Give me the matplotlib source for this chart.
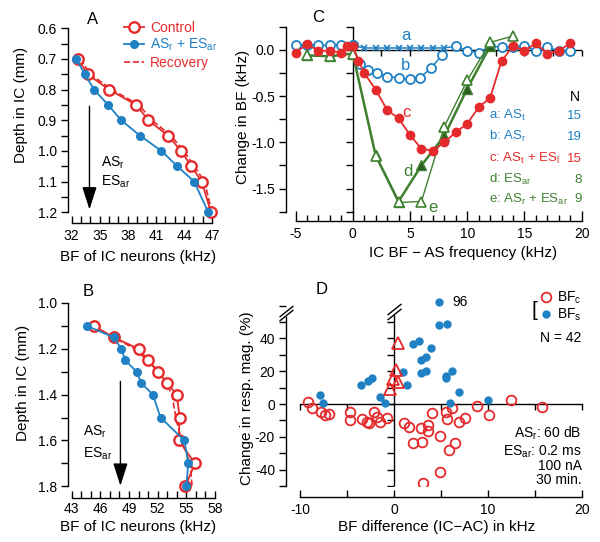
import numpy as np
import matplotlib
matplotlib.use('Agg')
import matplotlib.pyplot as plt
import matplotlib.transforms as mtransforms
from matplotlib.ticker import MultipleLocator

plt.rcParams['font.family'] = ['Liberation Sans', 'DejaVu Sans']
plt.rcParams['mathtext.default'] = 'regular'
plt.rcParams['axes.unicode_minus'] = False

RED = '#e52a2c'
BLUE = '#1f80c3'
GREEN = '#3f8030'
DKGREEN = '#2b5e1e'

# ---- panel A: depth vs BF ----
a_depth = [0.70, 0.75, 0.80, 0.85, 0.90, 0.95, 1.00, 1.05, 1.10, 1.20]
a_ctrl = [32.7, 33.7, 36.0, 38.9, 40.2, 42.3, 43.7, 44.8, 45.9, 46.9]
a_exp = [32.5, 33.4, 34.4, 35.9, 37.3, 39.3, 41.6, 43.3, 45.1, 46.6]
a_rec = [32.9, 34.0, 36.3, 39.2, 40.6, 42.6, 44.0, 45.1, 46.2, 47.0]
a_xticks = [32, 35, 38, 41, 44, 47]

# ---- panel B ----
b_depth = [1.10, 1.15, 1.20, 1.25, 1.30, 1.35, 1.40, 1.50, 1.60, 1.70, 1.80]
b_ctrl = [45.3, 47.4, 50.0, 51.0, 52.0, 53.0, 54.0, 54.3, 54.2, 55.9, 54.9]
b_exp = [44.6, 47.4, 48.2, 48.6, 49.8, 50.3, 51.5, 52.3, 54.8, 55.2, 55.0]
b_rec = [45.3, 47.4, 49.6, 50.9, 52.2, 52.9, 53.5, 53.9, 54.5, 55.4, 55.6]
b_xticks = [43, 46, 49, 52, 55, 58]

# ---- panel C: change in BF ----
ca_x = [-5, -4, -3, -2, -1, 0, 1, 2, 3, 4, 5, 6, 7, 8,
        9, 10, 11, 12, 13, 14, 15, 16, 17, 18, 19]
ca_y = [0.05, 0.05, 0.05, 0.05, 0.05, 0.05, 0.02, 0.02, 0.02, 0.02, 0.02, 0.02, 0.02, 0.02,
        0.04, -0.01, -0.03, 0.04, 0.03, 0.03, 0.04, -0.01, 0.03, -0.01, -0.01]
ca_cross = [1, 2, 3, 4, 5, 6, 7, 8]
cb_x = [0, 0.6, 1.3, 2.1, 3.0, 4.0, 5.0, 5.9, 6.8, 7.8]
cb_y = [0.05, -0.15, -0.22, -0.25, -0.29, -0.30, -0.32, -0.30, -0.20, -0.06]
cc_x = [-5, -4, -3, -2, -1, -0.5, 0, 0.5, 1, 2, 3, 4, 5, 6, 7, 8, 9, 10,
        11, 12, 13, 14, 15, 16, 17, 18, 19]
cc_y = [-0.03, 0.06, -0.01, -0.01, -0.03, 0.04, 0.04, -0.12, -0.25, -0.43, -0.65,
        -0.74, -0.92, -1.07, -1.09, -1.0, -0.89, -0.80, -0.62, -0.52, -0.12, 0.04,
        -0.01, 0.07, -0.04, -0.01, 0.07]
cd_x = [-4, -2, 0, 2, 4, 6, 8, 10, 12]
cd_y = [-0.06, -0.07, -0.04, -1.14, -1.64, -1.25, -0.93, -0.42, 0.04]
ce_x = [-4, -2, 0, 2, 4, 6, 8, 10, 12, 14]
ce_y = [-0.06, -0.07, -0.04, -1.15, -1.65, -1.64, -0.83, -0.33, 0.08, 0.15]
c_names = ['a', 'b', 'c', 'd', 'e']
c_labels = ['AS$_t$', 'AS$_r$', 'AS$_t$ + ES$_l$', 'ES$_{ar}$', 'AS$_r$ + ES$_{ar}$']
c_n = [15, 19, 15, 8, 9]

# ---- panel D: response magnitude vs BF difference ----
bfs_x = [-7.85, -7.5, -3.5, -2.8, -2.3, -1.5, -1.0, 1.0, 1.4, 2.0, 2.7, 2.9, 3.4,
         2.85, 3.45, 3.9, 4.8, 5.7, 5.5, 5.6, 6.2, 6.0, 6.9, 10.0, 4.8]
bfs_y = [5.5, 0.4, 11.6, 14, 16, 4.1, 0.4, 19.5, 11.6, 36.6, 38.6, 26.8, 28.8,
         19, 20.3, 34, 48.2, 48.6, 15.7, 16.8, 20.3, 0.4, 7.5, 2.5, 96]
bfc_x = [-9.2, -8.7, -7.75, -7.3, -6.95, -4.7, -4.7, -3.35, -2.9, -2.65, -2.1, -1.75,
         -1.5, -0.78, 1.06, 1.6, 2.84, 3.6, 3.6, 2.06, 3.0, 4.9, 4.1, 5.5, 6.2, 5.7,
         6.9, 7.56, 8.9, 10.1, 6.46, 5.86, 4.9, 3.1, 12.5, 15.8]
bfc_y = [1.0, -2.2, -5.1, -6.7, -6.3, -5.1, -9.8, -9.3, -10.8, -11.8, -5.1, -7.7,
         -10.8, -8.7, -11.4, -14.2, -14.8, -12.8, -16.3, -24, -23.4, -19.3, -5.7, -4.7,
         -2.6, -9.3, -10.8, -8.7, -1.2, -6.7, -24, -28, -41.3, -48, 2.4, -1.6]
tri_x = [0.42, 0.18, 0.42, -0.06, -0.42]
tri_y = [37, 20.7, 13.6, 15.0, 9.1]
D_BREAK = 55


def squash(v):
    v = np.asarray(v, dtype=float)
    return np.where(v > D_BREAK, D_BREAK + (v - D_BREAK) * 0.18, v)


W, H = 600, 542
fig = plt.figure(figsize=(W / 100, H / 100), dpi=100)


def px_axes(x0, y0, x1, y1):
    return fig.add_axes([x0 / W, 1 - y1 / H, (x1 - x0) / W, (y1 - y0) / H])


def ftext(x, y, s, **kw):
    fig.text(x / W, 1 - y / H, s, **kw)


def style(ax, left_out, bottom_out, xb, yb, xpad=4):
    for s in ['top', 'right']:
        ax.spines[s].set_visible(False)
    ax.spines['left'].set_position(('outward', left_out))
    ax.spines['bottom'].set_position(('outward', bottom_out))
    ax.spines['left'].set_bounds(*yb)
    ax.spines['bottom'].set_bounds(*xb)
    for s in ['left', 'bottom']:
        ax.spines[s].set_linewidth(1.0)
    ax.tick_params(axis='y', which='both', direction='out', length=5, width=1,
                   labelsize=10, pad=3)
    ax.tick_params(axis='x', which='both', direction='in', length=5, width=1,
                   labelsize=10, pad=xpad)
    ax.patch.set_alpha(0)


arrow_kw = dict(arrowstyle='-|>,head_width=0.32,head_length=1.0', color='k',
                lw=1.0, mutation_scale=14)

# ================= A =================
axA = px_axes(71.7, 28.3, 212, 212.3)
lc, = axA.plot(a_ctrl, a_depth, '-o', color=RED, mfc='white', mec=RED, mew=1.7,
               ms=7.5, lw=1.3, clip_on=False, zorder=3, label='Control')
le, = axA.plot(a_exp, a_depth, '-o', color=BLUE, ms=5.5, lw=1.3, clip_on=False,
               zorder=4, label='AS$_r$ + ES$_{ar}$')
lr, = axA.plot(a_rec, a_depth, '--', color=RED, lw=1.2, clip_on=False, zorder=2,
               label='Recovery')
axA.set_xlim(32, 47)
axA.set_ylim(1.2, 0.6)
style(axA, 2.5, 8, (32, 47), (0.6, 1.2), xpad=4)
axA.set_xticks(a_xticks)
axA.xaxis.set_minor_locator(MultipleLocator(1))
axA.yaxis.set_major_locator(MultipleLocator(0.1))
axA.yaxis.set_minor_locator(MultipleLocator(0.05))
axA.yaxis.set_major_formatter(lambda v, p: f'{v:.1f}')
axA.legend(handles=[lc, le, lr], loc='upper left', bbox_to_anchor=(0.37, 1.04),
           frameon=False, fontsize=10, handlelength=1.5, handletextpad=0.4,
           labelspacing=0.15, borderpad=0, borderaxespad=0, labelcolor='linecolor')
axA.annotate('', xy=(33.9, 1.2), xytext=(33.9, 0.845), annotation_clip=False,
             arrowprops=arrow_kw)
axA.text(35.1, 1.04, 'AS$_r$', fontsize=10, va='center', ha='left')
axA.text(35.1, 1.10, 'ES$_{ar}$', fontsize=10, va='center', ha='left')
ftext(93, 20, 'A', fontsize=12, ha='center', va='center')
ftext(138.5, 257, 'BF of IC neurons (kHz)', fontsize=11, ha='center', va='center')
ftext(21, 105, 'Depth in IC (mm)', fontsize=11, ha='center', va='center', rotation=90)

# ================= B =================
axB = px_axes(71.7, 303, 215, 486.3)
axB.plot(b_ctrl, b_depth, '-o', color=RED, mfc='white', mec=RED, mew=1.7,
         ms=7.5, lw=1.3, clip_on=False, zorder=3)
axB.plot(b_exp, b_depth, '-o', color=BLUE, ms=5.5, lw=1.3, clip_on=False, zorder=4)
axB.plot(b_rec, b_depth, '--', color=RED, lw=1.2, clip_on=False, zorder=2)
axB.set_xlim(43, 58)
axB.set_ylim(1.8, 1.0)
style(axB, 2.5, 8.6, (43, 58), (1.0, 1.8), xpad=2.5)
axB.set_xticks(b_xticks)
axB.xaxis.set_minor_locator(MultipleLocator(1))
axB.yaxis.set_major_locator(MultipleLocator(0.2))
axB.yaxis.set_minor_locator(MultipleLocator(0.1))
axB.yaxis.set_major_formatter(lambda v, p: f'{v:.1f}')
axB.annotate('', xy=(48.1, 1.81), xytext=(48.1, 1.33), annotation_clip=False,
             arrowprops=arrow_kw)
axB.text(44.2, 1.56, 'AS$_r$', fontsize=10, va='center', ha='left')
axB.text(44.2, 1.66, 'ES$_{ar}$', fontsize=10, va='center', ha='left')
ftext(88, 292, 'B', fontsize=12, ha='center', va='center')
ftext(138, 527, 'BF of IC neurons (kHz)', fontsize=11, ha='center', va='center')
ftext(23, 383, 'Depth in IC (mm)', fontsize=11, ha='center', va='center', rotation=90)

# ================= C =================
axC = px_axes(295.5, 26.7, 581.7, 211.7)
axC.set_xlim(-5, 20)
axC.set_ylim(-1.75, 0.25)
style(axC, 6.8, 6.8, (-5, 20), (-1.75, 0.25))
axC.xaxis.set_major_locator(MultipleLocator(5))
axC.xaxis.set_minor_locator(MultipleLocator(1))
axC.tick_params(axis='x', which='major', length=7)
axC.tick_params(axis='x', which='minor', length=4)
axC.yaxis.set_major_locator(MultipleLocator(0.5))
axC.yaxis.set_minor_locator(MultipleLocator(0.25))
axC.yaxis.set_major_formatter(lambda v, p: f'{v:.1f}')
# inner axes through the origin
yt = np.arange(-1.75, 0.26, 0.25)
axC.plot([0, 0], [-1.75, 0.25], color='k', lw=1.0, zorder=1, clip_on=False)
axC.plot(np.zeros_like(yt), yt, ls='none', marker=0, ms=5, mew=1.0, color='k',
         clip_on=False, zorder=1)
xt = np.arange(2.5, 20.1, 2.5)
axC.plot([0, 20], [0, 0], color='k', lw=1.0, zorder=1)
axC.plot(xt, np.zeros_like(xt), ls='none', marker=3, ms=4, mew=1.0, color='k',
         clip_on=False, zorder=1)
ca_x = np.array(ca_x)
ca_y = np.array(ca_y)
is_cross = np.isin(ca_x, ca_cross)
axC.plot(ca_x, ca_y, '-', color=BLUE, lw=1.1, zorder=3, clip_on=False)
axC.plot(ca_x[~is_cross], ca_y[~is_cross], 'o', mfc='white', mec=BLUE, mew=1.3,
         ms=6.5, zorder=3, clip_on=False)
axC.plot(ca_x[is_cross], ca_y[is_cross], 'x', color=BLUE, mew=1.2, ms=5, zorder=3)
axC.plot(cb_x, cb_y, '-o', color=BLUE, mfc='white', mec=BLUE, mew=1.3, ms=6.5,
         lw=1.1, zorder=3)
axC.plot(cd_x, cd_y, '-^', color=GREEN, mfc=DKGREEN, mec=GREEN, mew=1.0, ms=7,
         lw=1.8, zorder=4)
axC.plot(ce_x, ce_y, '-^', color=GREEN, mfc='white', mec=GREEN, mew=1.2, ms=7.5,
         lw=1.0, zorder=4, clip_on=False)
axC.plot(cc_x, cc_y, '-o', color=RED, ms=6, lw=1.3, zorder=5, clip_on=False)
axC.text(4.65, 0.15, 'a', color=BLUE, fontsize=12, ha='center', va='center')
axC.text(4.65, -0.17, 'b', color=BLUE, fontsize=12, ha='center', va='center')
axC.text(4.65, -0.68, 'c', color=RED, fontsize=12, ha='center', va='center')
axC.text(4.8, -1.32, 'd', color=GREEN, fontsize=12, ha='center', va='center')
axC.text(7.0, -1.70, 'e', color=GREEN, fontsize=12, ha='center', va='center')
axC.text(19.85, -0.51, 'N', fontsize=10, ha='right', va='center')
c_cols = [BLUE, BLUE, RED, GREEN, GREEN]
c_rows = [-0.745, -0.97, -1.21, -1.44, -1.65]
for nm, lab, n, col, yy in zip(c_names, c_labels, c_n, c_cols, c_rows):
    axC.text(11.9, yy, f'{nm}: {lab}', color=col, fontsize=9.5, ha='left',
             va='baseline')
    axC.text(20.0, yy, str(n), color=col, fontsize=9.5, ha='right', va='baseline')
ftext(318, 17, 'C', fontsize=12, ha='center', va='center')
ftext(463, 253, 'IC BF \u2212 AS frequency (kHz)', fontsize=11, ha='center',
      va='center')
ftext(243, 117, 'Change in BF (kHz)', fontsize=11, ha='center', va='center',
      rotation=90)

# ================= D =================
axD = px_axes(300, 297.4, 581.7, 486)
axD.set_xlim(-10, 20)
axD.set_ylim(-50, 65)
style(axD, 10, 7.9, (-10, 20), (-50, 53))
axD.xaxis.set_major_locator(MultipleLocator(10))
axD.xaxis.set_minor_locator(MultipleLocator(5))
axD.yaxis.set_minor_locator(MultipleLocator(10))
axD.set_yticks([-40, -20, 0, 20, 40])
# inner axes through the origin
ytd = np.arange(-50, 51, 10)
axD.plot([0, 0], [-50, 54], color='k', lw=1.0, zorder=1)
axD.plot(np.zeros_like(ytd), ytd, ls='none', marker=0, ms=5, mew=1.0, color='k',
         zorder=1)
xtd = np.array([-10, -5, 5, 10, 15, 20])
axD.plot([-10, 20], [0, 0], color='k', lw=1.0, zorder=1, clip_on=False)
axD.plot(xtd, np.zeros_like(xtd), ls='none', marker=3, ms=4, mew=1.0, color='k',
         zorder=1, clip_on=False)
# axis breaks
brk = [(-1, -0.8), (1, 0.8)]
axD.plot([0, 0], [55, 58], ls='none', marker=brk, ms=10, mew=1.0, color='k')
tr = mtransforms.offset_copy(axD.get_yaxis_transform(), fig=fig, x=-10,
                             units='points')
axD.plot([0, 0], [54, 57], ls='none', marker=brk, ms=10, mew=1.0, color='k',
         transform=tr, clip_on=False)
hc, = axD.plot(bfc_x, bfc_y, 'o', mfc='none', mec=RED, mew=1.3, ms=7, zorder=3,
               label='BF$_c$')
hs, = axD.plot(bfs_x, squash(bfs_y), 'o', color=BLUE, ms=5, zorder=4,
               label='BF$_s$')
axD.plot(tri_x, tri_y, '^', mfc='none', mec=RED, mew=1.3, ms=8.5, zorder=4)
top = int(np.argmax(bfs_y))
axD.annotate(str(int(bfs_y[top])), (bfs_x[top], squash(bfs_y[top])),
             xytext=(10, 0), textcoords='offset points', fontsize=10, va='center')
axD.legend(handles=[hc, hs], loc='upper right', bbox_to_anchor=(1.0, 1.04),
           frameon=False, fontsize=10, handlelength=0.6, handletextpad=0.5,
           labelspacing=0.05, borderpad=0, borderaxespad=0)
axD.text(15.0, 57, '[', fontsize=15, ha='center', va='center')
axD.text(20.0, 40, 'N = 42', fontsize=10, ha='right', va='center')
axD.text(20.0, -17.9, 'AS$_r$: 60 dB', fontsize=10, ha='right', va='center')
axD.text(20.0, -29, 'ES$_{ar}$: 0.2 ms', fontsize=10, ha='right', va='center')
axD.text(20.0, -37.5, '100 nA', fontsize=10, ha='right', va='center')
axD.text(20.0, -46.3, '30 min.', fontsize=10, ha='right', va='center')
ftext(322, 290, 'D', fontsize=12, ha='center', va='center')
ftext(437, 527, 'BF difference (IC\u2212AC) in kHz', fontsize=11, ha='center',
      va='center')
ftext(247, 398, 'Change in resp. mag. (%)', fontsize=11, ha='center', va='center',
      rotation=90)

fig.savefig('out.png', dpi=100)
